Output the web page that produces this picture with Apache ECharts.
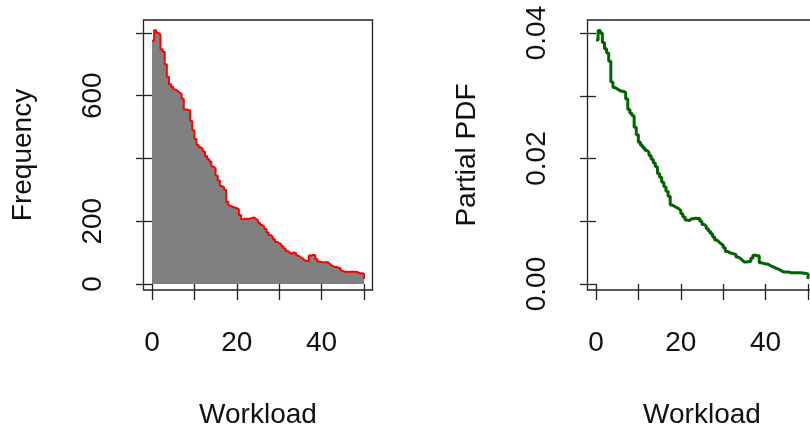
<!DOCTYPE html>
<html>
<head>
<meta charset="utf-8">
<script src="https://cdn.jsdelivr.net/npm/echarts@6/dist/echarts.min.js"></script>
<style>
html,body{margin:0;padding:0;background:#fff;}
#chart{width:810px;height:427px;}
</style>
</head>
<body>
<div id="chart"></div>
<script>
// Workload values (x positions of the steps)
const workload = [0,0.5,1,1.5,2,2.5,3,3.5,4,4.5,5,5.5,6,6.5,7,7.5,8,8.5,9,9.5,
  10,10.5,11,11.5,12,12.5,13,13.5,14,14.5,15,15.5,16,16.5,17,17.5,18,18.5,19,19.5,
  20,20.5,21,21.5,22,22.5,23,23.5,24,24.5,25,25.5,26,26.5,27,27.5,28,28.5,29,29.5,
  30,30.5,31,31.5,32,32.5,33,33.5,34,34.5,35,35.5,36,36.5,37,37.5,38,38.5,39,39.5,
  40,40.5,41,41.5,42,42.5,43,43.5,44,44.5,45,45.5,46,46.5,47,47.5,48,48.5,49,49.5,50];

// Left panel: frequency
const frequency = [775,808,800,795,748,740,700,660,636,628,620,616,610,605,590,556,555,553,519,490,
  462,444,436,430,422,408,398,390,374,368,346,330,312,308,300,262,250,246,244,242,
  238,220,206,208,208,208,210,212,208,202,195,188,182,175,164,156,150,143,134,130,
  127,120,113,106,100,96,101,98,91,86,82,76,73,73,91,93,92,80,72,70,
  69,69,69,64,58,55,54,52,50,42,39,39,39,39,39,39,38,34,34,33,16];

// Right panel: partial PDF
const partialPdf = [0.0389,0.0404,0.0400,0.0385,0.0375,0.0368,0.0355,0.0322,0.0313,0.0311,0.0309,0.0307,0.0307,0.0305,0.0295,0.0278,0.0272,0.0268,0.0250,0.0238,
  0.0226,0.0221,0.0217,0.0213,0.0210,0.0205,0.0199,0.0193,0.0187,0.0176,0.0170,0.0162,0.0155,0.0148,0.0140,0.0126,0.0124,0.0122,0.0120,0.0117,
  0.0112,0.0107,0.0102,0.0101,0.0104,0.0104,0.0105,0.0104,0.0105,0.0100,0.0095,0.0092,0.0088,0.0084,0.0080,0.0075,0.0070,0.0067,0.0064,0.0062,
  0.0058,0.0052,0.0050,0.0049,0.0048,0.0047,0.0043,0.0041,0.0038,0.0035,0.0035,0.0036,0.0036,0.0041,0.0046,0.0045,0.0045,0.0034,0.0033,0.0032,
  0.0032,0.0030,0.0028,0.0027,0.0025,0.0024,0.0022,0.0020,0.0019,0.0019,0.0019,0.0018,0.0018,0.0018,0.0018,0.0018,0.0018,0.0017,0.0017,0.0016,0.0008];

const xTicks = [0,10,20,30,40,50];
const xTickLabels = [0,20,40];
const freqTicks = [0,200,400,600,800];
const freqTickLabels = [0,200,600];
const pdfTicks = [0,0.01,0.02,0.03,0.04];
const pdfTickLabels = [0,0.02,0.04];

const FONT = '"Liberation Sans", Arial, sans-serif';
const FS = 28;
const TXT = '#111';

const freqData = workload.map((x, i) => [x, frequency[i]]);
const pdfData = workload.map((x, i) => [x, partialPdf[i]]);

const chart = echarts.init(document.getElementById('chart'), null, {renderer: 'canvas'});

function xAxisDef(gridIndex) {
  return {
    type: 'value', gridIndex, min: -2, max: 52,
    splitLine: {show: false},
    axisLine: {show: false},
    axisTick: {show: true, length: 16, customValues: xTicks, lineStyle: {color: '#222', width: 1.3}},
    axisLabel: {show: true, customValues: xTickLabels, margin: 39, fontSize: FS, fontFamily: FONT, color: TXT},
    name: 'Workload', nameLocation: 'middle', nameGap: 111,
    nameTextStyle: {fontSize: FS, fontFamily: FONT, color: TXT}
  };
}

const gridBase = {top: 20, width: 229, height: 270, show: true, borderColor: '#222', borderWidth: 1.3,
  backgroundColor: 'transparent', containLabel: false, outerBoundsMode: 'none'};

const option = {
  animation: false,
  backgroundColor: '#fff',
  grid: [
    Object.assign({left: 143.5}, gridBase),
    Object.assign({left: 587.5}, gridBase)
  ],
  xAxis: [xAxisDef(0), xAxisDef(1)],
  yAxis: [
    {
      type: 'value', gridIndex: 0, min: -19, max: 841,
      splitLine: {show: false}, axisLine: {show: false},
      axisTick: {show: true, length: 16, customValues: freqTicks, lineStyle: {color: '#222', width: 1.3}},
      axisLabel: {show: true, customValues: freqTickLabels, rotate: 90, margin: 36, fontSize: FS, fontFamily: FONT, color: TXT},
      name: 'Frequency', nameLocation: 'middle', nameGap: 106,
      nameTextStyle: {fontSize: FS, fontFamily: FONT, color: TXT}
    },
    {
      type: 'value', gridIndex: 1, min: -0.00095, max: 0.04207,
      splitLine: {show: false}, axisLine: {show: false},
      axisTick: {show: true, length: 16, customValues: pdfTicks, lineStyle: {color: '#222', width: 1.3}},
      axisLabel: {show: true, customValues: pdfTickLabels, rotate: 90, margin: 36, fontSize: FS, fontFamily: FONT, color: TXT,
        formatter: v => Number(v).toFixed(2)},
      name: 'Partial PDF', nameLocation: 'middle', nameGap: 106,
      nameTextStyle: {fontSize: FS, fontFamily: FONT, color: TXT}
    }
  ],
  series: [
    {
      type: 'line', xAxisIndex: 0, yAxisIndex: 0, data: freqData, step: 'end',
      showSymbol: false, symbol: 'none', silent: true,
      lineStyle: {width: 0, opacity: 0},
      areaStyle: {color: '#808080', opacity: 1, origin: 0},
      z: 2
    },
    {
      type: 'line', xAxisIndex: 0, yAxisIndex: 0, data: freqData, step: 'end',
      showSymbol: false, symbol: 'none', silent: true,
      lineStyle: {width: 2, color: '#ff0000'},
      z: 3
    },
    {
      type: 'line', xAxisIndex: 1, yAxisIndex: 1, data: pdfData, step: 'end',
      showSymbol: false, symbol: 'none', silent: true,
      lineStyle: {width: 3, color: '#006400'},
      z: 3
    }
  ]
};
chart.setOption(option);
</script>
</body>
</html>
